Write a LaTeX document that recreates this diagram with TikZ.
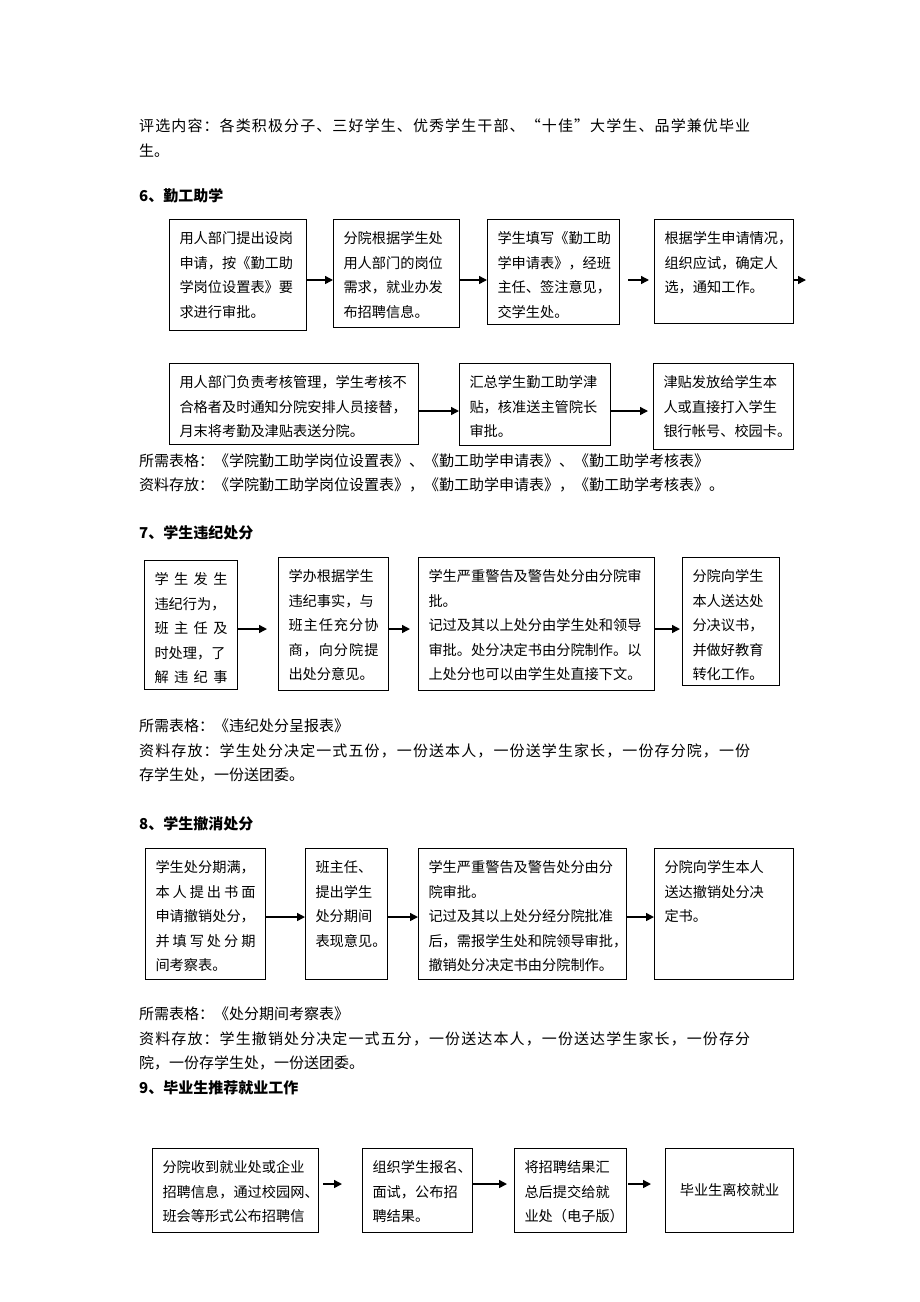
\documentclass[tikz,border=0pt]{standalone}
\usepackage{fontspec}
\setmainfont{Noto Sans CJK SC}
\usetikzlibrary{arrows.meta}

% stretch one line of CJK text to the full line width
\def\spreadrest#1{\ifx#1\relax\else\hfil#1\expandafter\spreadrest\fi}
\def\spreadfirst#1{#1\spreadrest}
\newcommand{\spread}[1]{\makebox[\linewidth][s]{\spreadfirst#1\relax}}

\begin{document}
\begin{tikzpicture}[x=1pt, y=-1pt,
  flowbox/.style={draw, line width=1pt, anchor=north west, align=left, inner xsep=10pt, inner ysep=0pt, text height=24pt, font=\fontsize{14.2pt}{24.5pt}\selectfont},
  endbox/.style={draw, line width=1pt, anchor=north west, align=center, font=\fontsize{14.2pt}{24.5pt}\selectfont},
  bodytext/.style={anchor=base west, align=left, inner sep=0pt, font=\fontsize{15pt}{24.5pt}\selectfont},
  headtext/.style={anchor=base west, inner sep=0pt, font=\fontsize{15pt}{24.5pt}\selectfont\bfseries},
  flowarrow/.style={line width=1.5pt, -{Triangle[length=8pt, width=8pt]}}]

  \path[use as bounding box, fill=white] (0,0) rectangle (920,1302);

  % text above section 6
  \node[bodytext, text width=611pt] (p1) at (139,131.5) {\spread{评选内容：各类积极分子、三好学生、优秀学生干部、“十佳”大学生、品学兼优毕业}\\生。};
  \node[headtext] (h6) at (139,201.5) {6、勤工助学};

  % 6 勤工助学
  \node[flowbox, text width=117pt, text depth=87pt] (w1) at (169,219) {用人部门提出设岗\\申请，按《勤工助\\学岗位设置表》要\\求进行审批。};
  \node[flowbox, text width=106pt, text depth=84pt] (w2) at (333,219) {分院根据学生处\\用人部门的岗位\\需求，就业办发\\布招聘信息。};
  \node[flowbox, text width=112pt, text depth=81pt] (w3) at (487,219) {学生填写《勤工助\\学申请表》，经班\\主任、签注意见，\\交学生处。};
  \node[flowbox, text width=119pt, text depth=80pt] (w4) at (654,219) {根据学生申请情况，\\组织应试，确定人\\选，通知工作。};
  \coordinate (w4out) at (806,280);

  \node[flowbox, text width=229pt, text depth=57pt] (w5) at (169,363) {用人部门负责考核管理，学生考核不\\合格者及时通知分院安排人员接替，\\月末将考勤及津贴表送分院。};
  \node[flowbox, text width=131pt, text depth=58pt] (w6) at (459,363) {汇总学生勤工助学津\\贴，核准送主管院长\\审批。};
  \node[flowbox, text width=120pt, text depth=62pt] (w7) at (653,363) {津贴发放给学生本\\人或直接打入学生\\银行帐号、校园卡。};

  \path[flowarrow] (w1.east|-0,280) edge (w2.west|-0,280)
                   (w2.east|-0,280) edge (w3.west|-0,280)
                   (w3.east|-0,280) edge[shorten <=8pt, shorten >=5pt] (w4.west|-0,280)
                   (w4.east|-0,280) edge (w4out)
                   (w5.east|-0,411) edge (w6.west|-0,411)
                   (w6.east|-0,411) edge[shorten >=5pt] (w7.west|-0,411);

  \node[bodytext] (p2) at (139,490.5) {所需表格：《学院勤工助学岗位设置表》、《勤工助学申请表》、《勤工助学考核表》\\资料存放：《学院勤工助学岗位设置表》，《勤工助学申请表》，《勤工助学考核表》。};
  \node[headtext] (h7) at (139,538.5) {7、学生违纪处分};

  % 7 学生违纪处分
  \node[flowbox, text width=73pt, text depth=105pt] (v1) at (144,560) {\spread{学生发生}\\违纪行为，\\\spread{班主任及}\\时处理，了\\\spread{解违纪事}};
  \node[flowbox, text width=90pt, text depth=109pt] (v2) at (278,557) {学办根据学生\\违纪事实，与\\\spread{班主任充分协}\\\spread{商，向分院提}\\出处分意见。};
  \node[flowbox, text width=216pt, text depth=109pt] (v3) at (418,557) {学生严重警告及警告处分由分院审\\批。\\记过及其以上处分由学生处和领导\\审批。处分决定书由分院制作。以\\上处分也可以由学生处直接下文。};
  \node[flowbox, text width=77pt, text depth=104pt] (v4) at (682,557) {分院向学生\\本人送达处\\分决议书，\\并做好教育\\转化工作。};

  \path[flowarrow] (v1.east|-0,629) edge[shorten >=11pt] (v2.west|-0,629)
                   (v2.east|-0,629) edge[shorten >=8pt] (v3.west|-0,629)
                   (v3.east|-0,629) edge[shorten >=2pt] (v4.west|-0,629);

  \node[bodytext, text width=611pt] (p3) at (139,731.5) {所需表格：《违纪处分呈报表》\\\spread{资料存放：学生处分决定一式五份，一份送本人，一份送学生家长，一份存分院，一份}\\存学生处，一份送团委。};
  \node[headtext] (h8) at (139,829.5) {8、学生撤消处分};

  % 8 学生撤消处分
  \node[flowbox, text width=100pt, text depth=107pt] (u1) at (145,848) {学生处分期满，\\\spread{本人提出书面}\\申请撤销处分，\\\spread{并填写处分期}\\间考察表。};
  \node[flowbox, text width=62pt, text depth=107pt] (u2) at (305,848) {班主任、\\提出学生\\处分期间\\表现意见。};
  \node[flowbox, text width=188pt, text depth=107pt] (u3) at (418,848) {学生严重警告及警告处分由分\\院审批。\\记过及其以上处分经分院批准\\后，需报学生处和院领导审批，\\撤销处分决定书由分院制作。};
  \node[flowbox, text width=119pt, text depth=107pt] (u4) at (654,848) {分院向学生本人\\送达撤销处分决\\定书。};

  \path[flowarrow] (u1.east|-0,917) edge (u2.west|-0,917)
                   (u2.east|-0,917) edge (u3.west|-0,917)
                   (u3.east|-0,917) edge (u4.west|-0,917);

  \node[bodytext, text width=611pt] (p4) at (139,1019.5) {所需表格：《处分期间考察表》\\\spread{资料存放：学生撤销处分决定一式五分，一份送达本人，一份送达学生家长，一份存分}\\院，一份存学生处，一份送团委。};
  \node[headtext] (h9) at (139,1093.5) {9、毕业生推荐就业工作};

  % 9 毕业生推荐就业工作
  \node[flowbox, text width=146pt, text depth=60pt] (r1) at (152,1148) {分院收到就业处或企业\\招聘信息，通过校园网、\\班会等形式公布招聘信};
  \node[flowbox, text width=90pt, text depth=60pt] (r2) at (362,1148) {组织学生报名、\\面试，公布招\\聘结果。};
  \node[flowbox, text width=92pt, text depth=60pt] (r3) at (514,1148) {将招聘结果汇\\总后提交给就\\业处（电子版）};
  \node[endbox, minimum width=128pt, minimum height=84pt] (r4) at (665,1148) {毕业生离校就业};

  \path[flowarrow] (r1.east|-0,1184) edge[shorten <=4pt, shorten >=20pt] (r2.west|-0,1184)
                   (r2.east|-0,1184) edge[shorten >=7pt] (r3.west|-0,1184)
                   (r3.east|-0,1184) edge[shorten <=1pt, shorten >=14pt] (r4.west|-0,1184);
\end{tikzpicture}
\end{document}
